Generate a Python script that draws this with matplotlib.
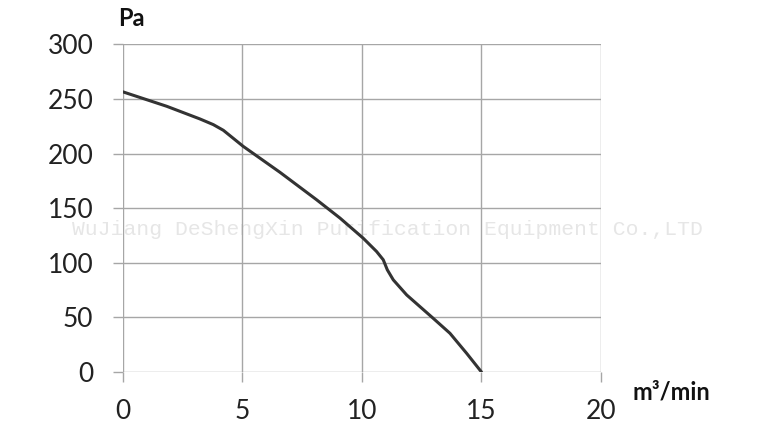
import numpy as np
import matplotlib.pyplot as plt

# fan curve: airflow (m3/min) vs static pressure (Pa)
flow = [0.0, 1.83, 3.22, 3.78, 4.2, 5.03, 6.57, 8.1, 9.08, 10.05, 10.61, 10.89, 11.06, 11.31, 11.87, 12.98, 13.68, 14.38, 15.0]
pressure = [256.6, 243.4, 231.8, 226.6, 221.4, 206.7, 182.9, 157.8, 141.0, 122.6, 110.4, 102.8, 93.6, 84.4, 70.6, 49.2, 35.5, 17.1, 0]

x_ticks = [0, 5, 10, 15, 20]
y_ticks = [0, 50, 100, 150, 200, 250, 300]

plt.rcParams['font.family'] = ['Lato', 'DejaVu Sans']

fig = plt.figure(figsize=(7.70, 4.48), dpi=100)
ax = fig.add_axes([0.1597, 0.1696, 0.6208, 0.7311])
ax.patch.set_alpha(0)

ax.plot(flow, pressure, color='#333333', linewidth=2.2, solid_capstyle='round',
        solid_joinstyle='round', zorder=3)

ax.set_xlim(0, 20)
ax.set_ylim(0, 300)
ax.set_xticks(x_ticks)
ax.set_yticks(y_ticks)
ax.grid(True, color='#a6a6a6', linewidth=1.0)
ax.set_axisbelow(True)
for s in ax.spines.values():
    s.set_visible(False)
ax.tick_params(axis='both', length=7.2, width=1.0, color='#a6a6a6',
               labelsize=19, labelcolor='#222222')
ax.tick_params(axis='y', pad=14)
ax.tick_params(axis='x', pad=12)

fig.text(131 / 770, 1 - 18 / 448, 'Pa', fontsize=17, fontweight='bold',
         ha='center', va='center', color='#111111')
fig.text(671 / 770, 1 - 392 / 448, 'm³/min', fontsize=17, fontweight='bold',
         ha='center', va='center', color='#111111')

# watermark sits behind the grid and the curve
ax.text(387 / 770, 1 - 229 / 448, 'WuJiang DeShengXin Purification Equipment Co.,LTD',
        transform=fig.transFigure, family='Liberation Mono', fontsize=15.4,
        color='#e6e6e6', ha='center', va='center', zorder=0.1, clip_on=False)

fig.savefig('out.png', dpi=100)
